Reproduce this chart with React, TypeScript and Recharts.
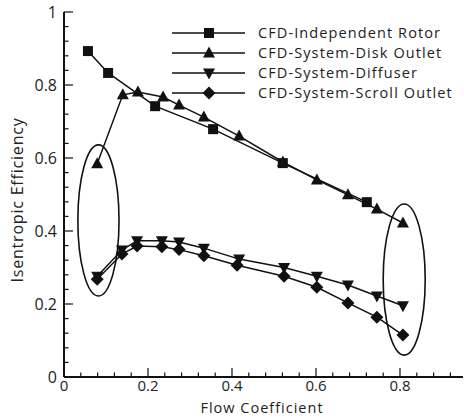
import React from "react";
import { LineChart, Line, XAxis, YAxis, ReferenceArea, Legend } from "recharts";

// values
const rotorX = [0.057, 0.105, 0.217, 0.355, 0.521, 0.721];
const rotorY = [0.893, 0.833, 0.742, 0.679, 0.586, 0.479];

const diskX = [0.079, 0.14, 0.176, 0.236, 0.274, 0.333, 0.417, 0.521, 0.602, 0.676, 0.745, 0.807];
const diskY = [0.584, 0.773, 0.781, 0.767, 0.745, 0.712, 0.66, 0.589, 0.54, 0.499, 0.46, 0.422];

const diffX = [0.079, 0.138, 0.174, 0.233, 0.274, 0.333, 0.417, 0.524, 0.602, 0.676, 0.745, 0.807];
const diffY = [0.276, 0.348, 0.373, 0.373, 0.37, 0.353, 0.323, 0.3, 0.276, 0.252, 0.222, 0.195];

const scrollX = [0.079, 0.138, 0.174, 0.233, 0.274, 0.333, 0.412, 0.524, 0.602, 0.676, 0.745, 0.807];
const scrollY = [0.268, 0.337, 0.359, 0.357, 0.349, 0.332, 0.306, 0.276, 0.246, 0.203, 0.164, 0.115];

const xTicks = Array.from({ length: 24 }, (_, i) => +(i * 0.04).toFixed(2));
const yTicks = Array.from({ length: 26 }, (_, i) => +(i * 0.04).toFixed(2));

const INK = "#111";
const FONT = "'Open Sans', sans-serif";

const toPoints = (xs: number[], ys: number[]) => xs.map((x, i) => ({ x, y: ys[i] }));

const SERIES = [
  { name: "CFD-Independent Rotor", marker: "square", data: toPoints(rotorX, rotorY) },
  { name: "CFD-System-Disk Outlet", marker: "up", data: toPoints(diskX, diskY) },
  { name: "CFD-System-Diffuser", marker: "down", data: toPoints(diffX, diffY) },
  { name: "CFD-System-Scroll Outlet", marker: "diamond", data: toPoints(scrollX, scrollY) },
];

const isMajor = (v: number) => Math.abs(v * 5 - Math.round(v * 5)) < 1e-6;

function Marker({ kind, cx, cy }: { kind: string; cx: number; cy: number }) {
  if (kind === "square") return <rect x={cx - 5} y={cy - 5} width={10} height={10} fill={INK} />;
  if (kind === "up")
    return <polygon points={`${cx},${cy - 6.5} ${cx + 6},${cy + 4.5} ${cx - 6},${cy + 4.5}`} fill={INK} />;
  if (kind === "down")
    return <polygon points={`${cx},${cy + 6.5} ${cx + 6},${cy - 4.5} ${cx - 6},${cy - 4.5}`} fill={INK} />;
  return <polygon points={`${cx},${cy - 6.5} ${cx + 6.5},${cy} ${cx},${cy + 6.5} ${cx - 6.5},${cy}`} fill={INK} />;
}

const BottomTick = ({ x, y, payload }: any) => {
  const major = isMajor(payload.value);
  return (
    <g>
      <line x1={x} x2={x} y1={y} y2={y - (major ? 9 : 4.5)} stroke={INK} strokeWidth={1.2} />
      {major && (
        <text x={x} y={y + 14} textAnchor="middle" fontSize={15} fontFamily={FONT} fill="#222">
          {String(payload.value)}
        </text>
      )}
    </g>
  );
};

const TopTick = ({ x, y, payload }: any) => {
  const major = isMajor(payload.value);
  return <line x1={x} x2={x} y1={y} y2={y + (major ? 9 : 4.5)} stroke={INK} strokeWidth={1.2} />;
};

const LeftTick = ({ x, y, payload }: any) => {
  const major = isMajor(payload.value);
  return (
    <g>
      <line x1={x} x2={x + (major ? 9 : 4.5)} y1={y} y2={y} stroke={INK} strokeWidth={1.2} />
      {major && (
        <text x={x - 7} y={y + 6} textAnchor="end" fontSize={16} fontFamily={FONT} fill="#222">
          {String(payload.value)}
        </text>
      )}
    </g>
  );
};

const RightTick = ({ x, y, payload }: any) => {
  const major = isMajor(payload.value);
  return <line x1={x} x2={x - (major ? 9 : 4.5)} y1={y} y2={y} stroke={INK} strokeWidth={1.2} />;
};

const EllipseShape = (p: any) => (
  <ellipse
    cx={p.x + p.width / 2}
    cy={p.y + p.height / 2}
    rx={p.width / 2}
    ry={p.height / 2}
    fill="none"
    stroke={INK}
    strokeWidth={1.6}
  />
);

const LegendBox = () => (
  <svg width={294} height={90}>
    {SERIES.map((s, i) => {
      const cy = 11 + i * 20;
      return (
        <g key={s.name}>
          <line x1={4} x2={77} y1={cy} y2={cy} stroke={INK} strokeWidth={1.5} />
          <Marker kind={s.marker} cx={41} cy={cy} />
          <text x={90} y={cy + 5} fontSize={14.5} fontFamily={FONT} letterSpacing={1.1} fill="#222">
            {s.name}
          </text>
        </g>
      );
    })}
  </svg>
);

export default function App() {
  return (
    <div style={{ position: "absolute", left: 0, top: 0, background: "#fff" }}>
      <LineChart width={464} height={418} margin={{ top: 12, right: 1, left: 0, bottom: 0 }}>
        <XAxis
          xAxisId={0}
          dataKey="x"
          type="number"
          domain={[0, 0.95]}
          ticks={xTicks}
          interval={0}
          tickSize={0}
          tickMargin={0}
          height={41}
          axisLine={{ stroke: INK, strokeWidth: 2 }}
          tick={BottomTick}
          label={{
            content: () => (
              <text x={262} y={413} textAnchor="middle" fontSize={14.5} fontFamily={FONT} letterSpacing={1} fill="#222">
                Flow Coefficient
              </text>
            ),
          }}
        />
        <XAxis
          xAxisId="top"
          orientation="top"
          dataKey="x"
          type="number"
          domain={[0, 0.95]}
          ticks={xTicks}
          interval={0}
          tickSize={0}
          tickMargin={0}
          height={0}
          axisLine={{ stroke: INK, strokeWidth: 1.5 }}
          tick={TopTick}
        />
        <YAxis
          yAxisId={0}
          type="number"
          domain={[0, 1]}
          ticks={yTicks}
          interval={0}
          tickSize={0}
          tickMargin={0}
          width={64}
          axisLine={{ stroke: INK, strokeWidth: 2 }}
          tick={LeftTick}
          label={{
            content: () => (
              <text
                transform="translate(23,200) rotate(-90)"
                textAnchor="middle"
                fontSize={16}
                fontFamily={FONT}
                letterSpacing={0.8}
                fill="#222"
              >
                Isentropic Efficiency
              </text>
            ),
          }}
        />
        <YAxis
          yAxisId="right"
          orientation="right"
          type="number"
          domain={[0, 1]}
          ticks={yTicks}
          interval={0}
          tickSize={0}
          tickMargin={0}
          width={0}
          axisLine={{ stroke: INK, strokeWidth: 1.5 }}
          tick={RightTick}
        />
        <ReferenceArea x1={0.033} x2={0.131} y1={0.222} y2={0.636} shape={EllipseShape} />
        <ReferenceArea x1={0.76} x2={0.86} y1={0.06} y2={0.474} shape={EllipseShape} />
        {SERIES.map((s) => (
          <Line
            key={s.name}
            name={s.name}
            data={s.data}
            dataKey="y"
            type="linear"
            stroke={INK}
            strokeWidth={1.5}
            isAnimationActive={false}
            dot={(p: any) => <Marker key={`${s.name}-${p.index}`} kind={s.marker} cx={p.cx} cy={p.cy} />}
          />
        ))}
        <Legend
          layout="vertical"
          align="center"
          verticalAlign="middle"
          wrapperStyle={{ left: 168, top: 22, width: 294, height: 90 }}
          content={LegendBox}
        />
      </LineChart>
    </div>
  );
}
